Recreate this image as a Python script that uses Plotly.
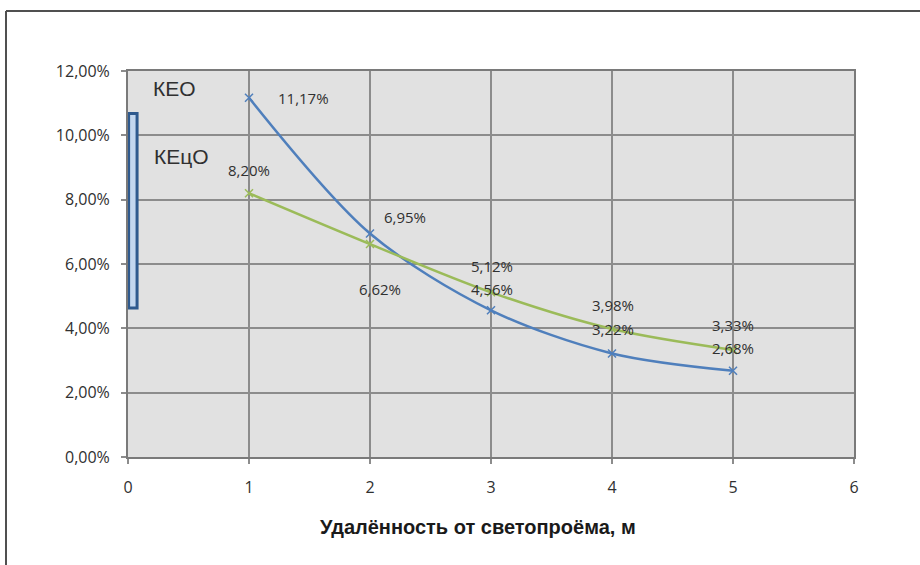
import plotly.graph_objects as go

# Distance from the window opening, m
distance = [1, 2, 3, 4, 5]
# Daylight factor (КЕО) and cylindrical daylight factor (КЕцО), as fractions
keo = [0.1117, 0.0695, 0.0456, 0.0322, 0.0268]
kecyo = [0.0820, 0.0662, 0.0512, 0.0398, 0.0333]
x_ticks = [0, 1, 2, 3, 4, 5, 6]
y_ticks = [0.0, 0.02, 0.04, 0.06, 0.08, 0.10, 0.12]
# Vertical extent of the window opening drawn at x = 0
window_bottom, window_top = 0.0463, 0.1068

BLUE = "#4f7fbc"
GREEN = "#9bbb59"
TEXT = "#303030"
GRID = "#8c8c8c"

W, H = 920, 565
L, R, T, B = 128, 854, 71, 457  # plot area edges in pixels


def px_to_paper(px, py):
    return (px - L) / (R - L), (B - py) / (B - T)


def pct(v):
    return f"{v * 100:.2f}".replace(".", ",") + "%"


fig = go.Figure()

fig.add_trace(go.Scatter(
    x=distance, y=keo, mode="lines+markers", name="КЕО",
    line=dict(color=BLUE, width=2.5, shape="spline", smoothing=0.9),
    marker=dict(symbol="x-thin", size=8, line=dict(color=BLUE, width=1.5)),
))
fig.add_trace(go.Scatter(
    x=distance, y=kecyo, mode="lines+markers", name="КЕцО",
    line=dict(color=GREEN, width=2.5, shape="spline", smoothing=0.9),
    marker=dict(symbol="x-thin", size=8, line=dict(color=GREEN, width=1.5)),
))

# Window opening
fig.add_shape(type="rect", xref="x", yref="y",
              x0=0.005, x1=0.075, y0=window_bottom, y1=window_top,
              line=dict(color="#2f5a8e", width=3), fillcolor="#c3d7ef")

# Value labels: (xshift, yshift) in pixels from each point
keo_offsets = [(54, 0), (35, 16), (1, 21), (1, 24), (0, 23)]
kecyo_offsets = [(0, 23), (10, -45), (1, 26), (1, 24), (0, 25)]
value_font = dict(family="Open Sans", size=15, color=TEXT)
for xv, yv, (dx, dy) in zip(distance, keo, keo_offsets):
    fig.add_annotation(x=xv, y=yv, text=pct(yv), showarrow=False,
                       xshift=dx, yshift=dy, font=value_font, borderpad=0)
for xv, yv, (dx, dy) in zip(distance, kecyo, kecyo_offsets):
    fig.add_annotation(x=xv, y=yv, text=pct(yv), showarrow=False,
                       xshift=dx, yshift=dy, font=value_font, borderpad=0)

# Series names inside the plot
name_font = dict(family="Liberation Sans", size=21, color=TEXT)
for name, (px, py) in [("КЕО", (174, 88)), ("КЕцО", (181, 156))]:
    ax, ay = px_to_paper(px, py)
    fig.add_annotation(x=ax, y=ay, xref="paper", yref="paper", text=name,
                       xanchor="center", yanchor="middle",
                       showarrow=False, font=name_font)

# Axis title
tx, ty = px_to_paper(478, 527)
fig.add_annotation(x=tx, y=ty, xref="paper", yref="paper",
                   xanchor="center", yanchor="middle",
                   text="<b>Удалённость от светопроёма, м</b>", showarrow=False,
                   font=dict(family="Liberation Sans", size=20, color="#1a1a1a"))

# Outer frame (top and left edges)
fx0, fy0 = px_to_paper(6, 11)
fx1, fy1 = px_to_paper(W + 5, H + 5)
fig.add_shape(type="line", xref="paper", yref="paper",
              x0=fx0, y0=fy0, x1=fx1, y1=fy0, line=dict(color="#505050", width=2))
fig.add_shape(type="line", xref="paper", yref="paper",
              x0=fx0, y0=fy0, x1=fx0, y1=fy1, line=dict(color="#505050", width=2))

fig.update_layout(
    width=W, height=H,
    margin=dict(l=L, r=W - R, t=T, b=H - B),
    paper_bgcolor="white",
    plot_bgcolor="#e1e1e1",
    separators=", ",
    showlegend=False,
    font=dict(family="Open Sans", color=TEXT),
)
fig.update_xaxes(
    range=[0, 6], tickvals=x_ticks, showgrid=True, gridcolor=GRID, gridwidth=1.5,
    zeroline=False, showline=True, linecolor="#7a7a7a", linewidth=2, mirror=True,
    ticks="outside", ticklen=5, tickcolor=GRID, tickwidth=1.5,
    tickfont=dict(family="Open Sans", size=16, color=TEXT), ticklabelstandoff=10,
)
fig.update_yaxes(
    range=[0, 0.12], tickvals=y_ticks, tickformat=".2%", showgrid=True,
    gridcolor=GRID, gridwidth=1.5, zeroline=False, showline=True,
    linecolor="#7a7a7a", linewidth=2, mirror=True,
    ticks="outside", ticklen=5, tickcolor=GRID, tickwidth=1.5,
    tickfont=dict(family="Open Sans", size=16, color=TEXT), ticklabelstandoff=8,
)

fig.write_html("out.html")
